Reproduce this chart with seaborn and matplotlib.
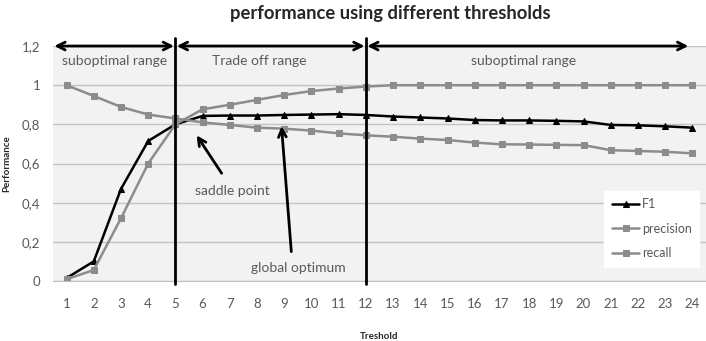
import matplotlib
matplotlib.use("Agg")
import matplotlib.pyplot as plt
import seaborn as sns
import pandas as pd
import numpy as np

thresholds = list(range(1, 25))
f1 = [0.015, 0.10, 0.47, 0.715, 0.80, 0.843, 0.845, 0.845, 0.848, 0.85, 0.852, 0.848,
      0.84, 0.835, 0.83, 0.822, 0.82, 0.82, 0.818, 0.815, 0.797, 0.795, 0.79, 0.783]
precision = [0.009, 0.056, 0.32, 0.60, 0.80, 0.877, 0.90, 0.925, 0.95, 0.97, 0.983, 0.993,
             1.0, 1.0, 1.0, 1.0, 1.0, 1.0, 1.0, 1.0, 1.0, 1.0, 1.0, 1.0]
recall = [1.0, 0.945, 0.889, 0.85, 0.83, 0.81, 0.797, 0.783, 0.778, 0.768, 0.754, 0.744,
          0.737, 0.727, 0.72, 0.707, 0.698, 0.697, 0.695, 0.694, 0.668, 0.664, 0.66, 0.652]
yticks = [0, 0.2, 0.4, 0.6, 0.8, 1.0, 1.2]
ytick_labels = ["0", "0,2", "0,4", "0,6", "0,8", "1", "1,2"]
range_labels = ["suboptimal range", "Trade off range", "suboptimal range"]
boundaries = [5, 12]

sns.set_style("white")
plt.rcParams['font.family'] = ['Lato', 'DejaVu Sans']

fig = plt.figure(figsize=(7.06, 3.41), dpi=100)
ax = fig.add_axes([0.075, 0.176, 0.925, 0.689])
ax.set_facecolor("#f2f2f2")

gray = "#8c8c8c"
df = pd.DataFrame({"x": thresholds, "F1": f1, "precision": precision, "recall": recall})
sns.lineplot(data=df, x="x", y="F1", ax=ax, color="black", marker="^", markersize=5,
             markeredgecolor="black", lw=1.8, label="F1")
sns.lineplot(data=df, x="x", y="precision", ax=ax, color=gray, marker="s", markersize=5,
             markeredgecolor=gray, lw=1.8, label="precision")
sns.lineplot(data=df, x="x", y="recall", ax=ax, color=gray, marker="s", markersize=5,
             markeredgecolor=gray, lw=1.8, label="recall")

ax.set_xlim(0.5, 24.5)
ax.set_ylim(0, 1.2)
ax.set_yticks(yticks)
ax.set_yticklabels(ytick_labels)
ax.set_xticks(thresholds)
ax.set_xticklabels([str(t) for t in thresholds])
ax.set_xticks(np.arange(0.5, 25, 1), minor=True)
ax.tick_params(axis="x", which="major", length=0, pad=12, labelsize=9.5, labelcolor="#595959")
ax.tick_params(axis="x", which="minor", length=4, color="#bfbfbf", direction="out")
ax.tick_params(axis="y", length=4, color="#c4c4c4", pad=5, labelsize=9.5, labelcolor="#595959")
ax.grid(axis="y", color="#c4c4c4", lw=1)
ax.set_axisbelow(True)
for s in ["top", "right", "left"]:
    ax.spines[s].set_visible(False)
ax.spines["bottom"].set_color("#bfbfbf")

ax.set_xlabel("Treshold", fontsize=7, fontweight="bold", labelpad=16, color="#262626")
ax.set_ylabel("Performance", fontsize=7, fontweight="bold", labelpad=8, color="#262626")

fig.suptitle("performance using different thresholds", fontsize=13.2, fontweight="bold",
             x=0.553, y=0.985, color="#262626")

# vertical boundaries
for b in boundaries:
    ax.plot([b, b], [-0.015, 1.24], color="black", lw=2, clip_on=False, zorder=5)

# range arrows
spans = [(0.5, 5), (5, 12), (12, 23.9)]
for (a, b) in spans:
    ax.annotate("", xy=(a + 0.05, 1.2), xytext=(b - 0.05, 1.2),
                arrowprops=dict(arrowstyle="<->", color="black", lw=2,
                                mutation_scale=14, shrinkA=0, shrinkB=0),
                annotation_clip=False)
label_x = [2.75, 8.1, 17.8]
for lx, t in zip(label_x, range_labels):
    ax.text(lx, 1.125, t, ha="center", va="center", fontsize=10, color="#595959")

# annotations
ax.annotate("", xy=(5.78, 0.744), xytext=(6.7, 0.55),
            arrowprops=dict(arrowstyle="->", color="black", lw=2, mutation_scale=14,
                            shrinkA=0, shrinkB=0))
ax.text(7.1, 0.46, "saddle point", ha="center", va="center", fontsize=10, color="#595959")
ax.annotate("", xy=(8.9, 0.79), xytext=(9.26, 0.15),
            arrowprops=dict(arrowstyle="->", color="black", lw=2, mutation_scale=14,
                            shrinkA=0, shrinkB=0))
ax.text(9.53, 0.068, "global optimum", ha="center", va="center", fontsize=10, color="#595959")

leg = ax.legend(loc="lower left", bbox_to_anchor=(0.835, 0.034), frameon=True,
                fancybox=False, edgecolor="white", facecolor="white", framealpha=1,
                fontsize=9, labelspacing=1.0, handlelength=2.2, handletextpad=0.2,
                borderpad=0.6)
for t in leg.get_texts():
    t.set_color("#595959")

fig.savefig("out.png", dpi=100)
